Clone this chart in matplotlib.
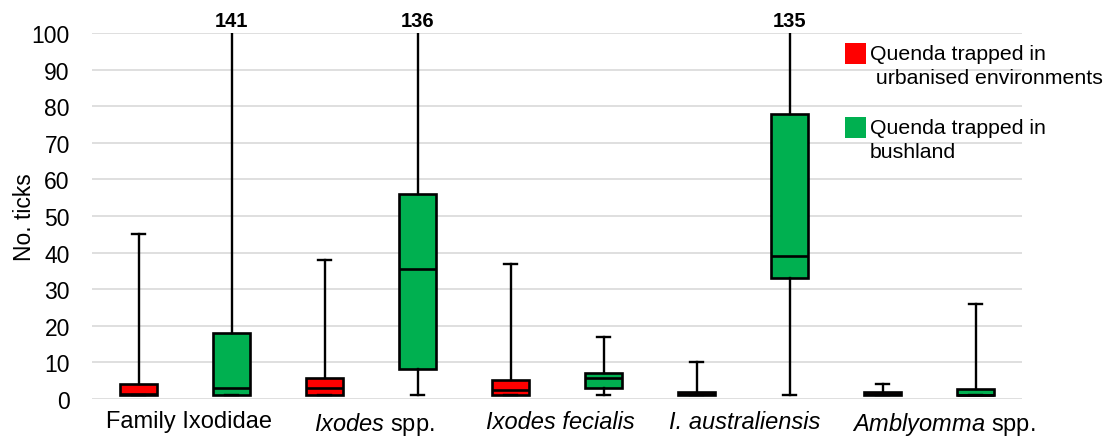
import matplotlib
matplotlib.use("Agg")
import matplotlib.pyplot as plt
from matplotlib.patches import Rectangle

plt.rcParams['font.family'] = 'Liberation Sans'
plt.rcParams['mathtext.fontset'] = 'custom'
plt.rcParams['mathtext.rm'] = 'Liberation Sans'
plt.rcParams['mathtext.it'] = 'Liberation Sans:italic'
plt.rcParams['mathtext.bf'] = 'Liberation Sans:bold'

# categories along the x axis
categories = ["Family Ixodidae", r"$\it{Ixodes}$ spp.", "Ixodes fecialis",
              "I. australiensis", r"$\it{Amblyomma}$ spp."]
all_italic = [False, False, True, True, False]

# quenda trapped in urbanised environments
urban_min = [1, 1, 1, 1, 1]
urban_q1 = [1, 1, 1, 1, 1]
urban_med = [1.5, 3, 2.5, 1.5, 1.5]
urban_q3 = [4, 5.8, 5.2, 2, 2]
urban_max = [45, 38, 37, 10, 4]

# quenda trapped in bushland
bush_min = [1, 1, 1, 1, 1]
bush_q1 = [1, 8.2, 3, 33, 1]
bush_med = [3, 35.5, 5.7, 39, 1]
bush_q3 = [18, 56, 7, 78, 2.75]
bush_max = [141, 136, 17, 135, 26]

legend_labels = ["Quenda trapped in\n urbanised environments", "Quenda trapped in\nbushland"]
red = '#FF0000'
green = '#00B050'


def make_stats(lo, q1, med, q3, hi):
    stats = []
    for i in range(len(lo)):
        stats.append({'whislo': lo[i], 'q1': q1[i], 'med': med[i], 'q3': q3[i],
                      'whishi': hi[i], 'fliers': []})
    return stats


fig = plt.figure(figsize=(11.1, 4.39), dpi=100)
ax = fig.add_axes([92 / 1110, 39 / 439, 930 / 1110, 366 / 439])

pos = list(range(len(categories)))
off = 0.25
w = 0.204

for lo, q1, med, q3, hi, col, shift in [
        (urban_min, urban_q1, urban_med, urban_q3, urban_max, red, -off),
        (bush_min, bush_q1, bush_med, bush_q3, bush_max, green, off)]:
    ax.bxp(make_stats(lo, q1, med, q3, hi), positions=[p + shift for p in pos],
           widths=w, capwidths=0.065, patch_artist=True, showfliers=False,
           boxprops=dict(facecolor=col, edgecolor='black', linewidth=1.9),
           whiskerprops=dict(color='black', linewidth=1.7),
           capprops=dict(color='black', linewidth=1.7),
           medianprops=dict(color='black', linewidth=1.9))
    # values above the axis limit
    for p, v in zip(pos, hi):
        if v > 100:
            ax.annotate(str(v), (p + shift, 100), xytext=(0, 2), textcoords='offset points',
                        ha='center', va='bottom', fontsize=14.5, fontweight='bold',
                        annotation_clip=False)

ax.set_xlim(-0.5, len(categories) - 0.5)
ax.set_ylim(0, 100)
ax.set_yticks(range(0, 101, 10))
ax.set_xticks(pos)
ax.set_xticklabels([])

# category labels, the original has them a little right of the group centres
nudge = [4, 3, 3, 2, 15]
xtrans = ax.get_xaxis_transform()
for p, lab, it, dx in zip(pos, categories, all_italic, nudge):
    ax.annotate(lab, (p, 0), xycoords=xtrans, xytext=(dx * 0.72, -8),
                textcoords='offset points', ha='center', va='top', fontsize=17,
                fontstyle='italic' if it else 'normal', annotation_clip=False)

ax.tick_params(axis='x', length=0)
ax.tick_params(axis='y', length=0, pad=16, labelsize=16.5)
ax.yaxis.grid(True, color='#D9D9D9', linewidth=1.2)
ax.set_axisbelow(True)
for s in ax.spines.values():
    s.set_visible(False)
ax.set_ylabel("No. ticks", fontsize=16.5)
ax.yaxis.set_label_coords(-56 / 930, 0.5)

# legend drawn by hand so the square sits on the first text line
for i, (lab, col) in enumerate(zip(legend_labels, [red, green])):
    top = 44 + i * 74
    fig.add_artist(Rectangle((845 / 1110, 1 - (top + 21) / 439), 21 / 1110, 21 / 439,
                             transform=fig.transFigure, facecolor=col, edgecolor='none'))
    fig.text(870 / 1110, 1 - (top + 1) / 439, lab, fontsize=15.3, va='top', ha='left',
             linespacing=1.35)

fig.savefig('out.png', dpi=100)
